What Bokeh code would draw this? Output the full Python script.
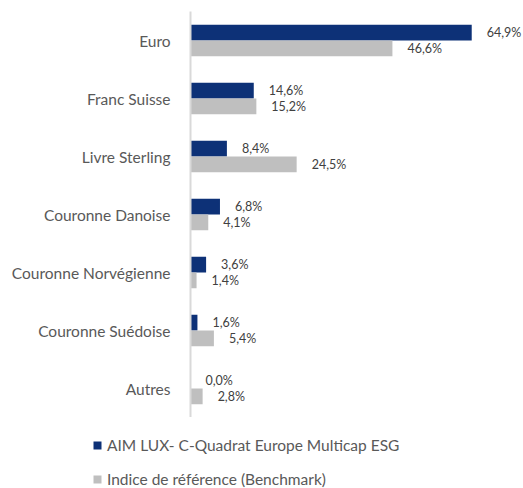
from bokeh.plotting import figure
from bokeh.models import ColumnDataSource, FactorRange, LabelSet, Legend, LegendItem
from bokeh.core.properties import value
from bokeh.transform import dodge
from bokeh.embed import file_html
from bokeh.resources import INLINE

categories = ["Euro", "Franc Suisse", "Livre Sterling", "Couronne Danoise",
              "Couronne Norvégienne", "Couronne Suédoise", "Autres"]
fund = [64.9, 14.6, 8.4, 6.8, 3.6, 1.6, 0.0]
bench = [46.6, 15.2, 24.5, 4.1, 1.4, 5.4, 2.8]
series_names = ["AIM LUX- C-Quadrat Europe Multicap ESG", "Indice de référence (Benchmark)"]

def fmt(v):
    return ("%.1f%%" % v).replace(".", ",")

src = ColumnDataSource(data=dict(
    cat=categories, fund=fund, bench=bench,
    fund_lbl=[fmt(v) for v in fund], bench_lbl=[fmt(v) for v in bench],
))

FONT = "Lato"
BLUE = "#0d3177"
GRAY = "#bfbfbf"
W = 523

p = figure(width=W, height=417, output_backend="svg", toolbar_location=None,
           y_range=FactorRange(factors=list(reversed(categories)), range_padding=0),
           x_range=(0, 76.85))
p.min_border_left = 190
p.min_border_top = 11
p.min_border_right = 0
p.min_border_bottom = 0
p.outline_line_color = None
p.xgrid.visible = False
p.ygrid.visible = False
p.xaxis.visible = False

r1 = p.hbar(y=dodge("cat", 0.135, range=p.y_range), right="fund", left=0, height=0.27,
            source=src, fill_color=BLUE, line_color=None)
r2 = p.hbar(y=dodge("cat", -0.135, range=p.y_range), right="bench", left=0, height=0.27,
            source=src, fill_color=GRAY, line_color=None)

for col, lbl, off in (("fund", "fund_lbl", 0.135), ("bench", "bench_lbl", -0.135)):
    p.add_layout(LabelSet(x=col, y=dodge("cat", off, range=p.y_range), text=lbl, source=src,
                          x_offset=15, text_baseline="middle", text_font=value(FONT),
                          text_font_size="12.5px", text_color="#404040"))

ax = p.yaxis[0]
ax.axis_line_color = "#d9d9d9"
ax.axis_line_width = 2
ax.major_tick_line_color = None
ax.minor_tick_line_color = None
ax.major_label_standoff = 14
ax.major_label_text_font = FONT
ax.major_label_text_font_size = "15.5px"
ax.major_label_text_color = "#595959"

# legend strip below the chart (separate root so frames are not aligned)
lg = figure(width=W, height=71, output_backend="svg", toolbar_location=None,
            y_range=FactorRange(factors=list(reversed(categories)), range_padding=0),
            x_range=(0, 76.85), x_axis_type=None, y_axis_type=None, min_border=0)
lg.outline_line_color = None
lg.xgrid.visible = False
lg.ygrid.visible = False
l1 = lg.hbar(y="cat", right="fund", left=0, height=0.27, source=src,
             fill_color=BLUE, line_color=None, visible=False)
l2 = lg.hbar(y="cat", right="bench", left=0, height=0.27, source=src,
             fill_color=GRAY, line_color=None, visible=False)
legend = Legend(items=[LegendItem(label=series_names[0], renderers=[l1]),
                       LegendItem(label=series_names[1], renderers=[l2])],
                orientation="vertical", location=(92, 0),
                glyph_width=10, glyph_height=10, label_standoff=5,
                label_height=17, spacing=16, padding=0, margin=0,
                label_text_font=FONT, label_text_font_size="15.5px",
                label_text_color="#595959", border_line_color=None,
                background_fill_alpha=0, inactive_fill_alpha=0)
lg.add_layout(legend)

open("out.html", "w").write(file_html([p, lg], INLINE))
